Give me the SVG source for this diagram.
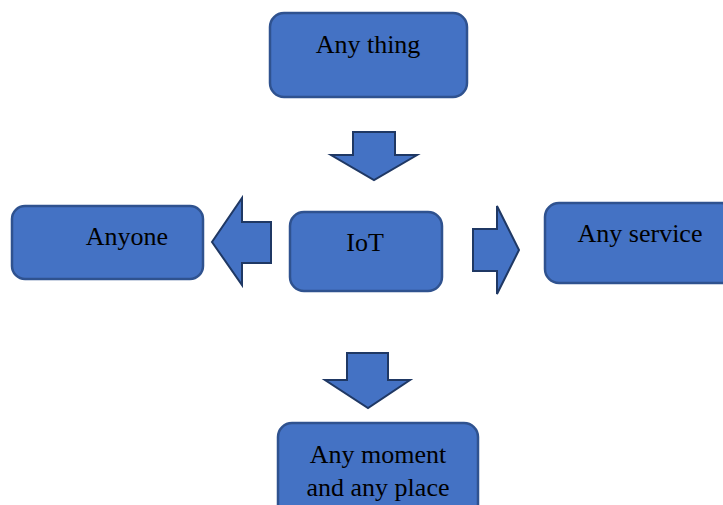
<svg xmlns="http://www.w3.org/2000/svg" width="723" height="505" viewBox="0 0 723 505">
<style>
.box{fill:#4472C4;stroke:#2F528F;stroke-width:2.5}
.arr{fill:#4472C4;stroke:#1F3864;stroke-width:2;stroke-linejoin:miter}
.t{font-family:"Liberation Serif","Times New Roman",serif;font-size:26px;fill:#000;text-anchor:middle}
</style>
<rect width="723" height="505" fill="#fff"/>
<g id="connectors">
<polygon class="arr" points="353,132 395,132 395,155 417,155 374,180 331,155 353,155"/>
<polygon class="arr" points="271,222 242,222 242,198 212,242 242,285 242,263 271,263"/>
<polygon class="arr" points="473,229 497,229 497,206 519,250 497,294 497,271 473,271"/>
<polygon class="arr" points="347,353 388,353 388,380 410,380 368,408 325,380 347,380"/>
</g>
<g id="any-thing">
<rect class="box" x="270" y="13" width="197" height="84" rx="14"/>
<text class="t" x="368" y="53">Any thing</text>
</g>
<g id="anyone">
<rect class="box" x="12" y="206" width="191" height="73" rx="13"/>
<text class="t" x="127" y="245">Anyone</text>
</g>
<g id="iot">
<rect class="box" x="290" y="212" width="152" height="79" rx="14"/>
<text class="t" x="365" y="251">IoT</text>
</g>
<g id="any-service">
<rect class="box" x="545" y="203" width="190" height="80" rx="14"/>
<text class="t" x="640" y="242">Any service</text>
</g>
<g id="any-moment">
<rect class="box" x="278" y="423" width="200" height="100" rx="14"/>
<text class="t" x="378" y="463">Any moment</text>
<text class="t" x="378" y="496">and any place</text>
</g>
</svg>
